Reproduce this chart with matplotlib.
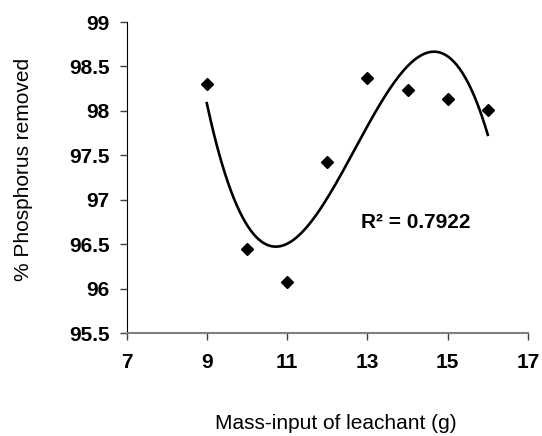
import matplotlib
matplotlib.use("Agg")
import matplotlib.pyplot as plt
import numpy as np

plt.rcParams["font.family"] = ["Liberation Sans", "DejaVu Sans"]

mass = [9, 10, 11, 12, 13, 14, 15, 16]
removed = [98.30, 96.45, 96.08, 97.43, 98.37, 98.24, 98.13, 98.01]
x_ticks = [7, 9, 11, 13, 15, 17]
y_ticks = [95.5, 96, 96.5, 97, 97.5, 98, 98.5, 99]

# 3rd order polynomial trendline, as in the spreadsheet original
coef = np.polyfit(mass, removed, 3)
xs = np.linspace(min(mass), max(mass), 200)

fig = plt.figure(figsize=(5.42, 4.36), dpi=100)
ax = fig.add_axes([0.2334, 0.2355, 0.7407, 0.714])

ax.plot(xs, np.polyval(coef, xs), color="black", linewidth=1.9)
ax.plot(mass, removed, linestyle="none", marker="D", markersize=6.5, color="black")

ax.set_xlim(7, 17)
ax.set_ylim(95.5, 99)
ax.set_xticks(x_ticks)
ax.set_yticks(y_ticks)
ax.set_xticklabels([str(t) for t in x_ticks], fontsize=15, fontweight="bold")
ax.set_yticklabels([f"{t:g}" for t in y_ticks], fontsize=15, fontweight="bold")
ax.tick_params(direction="out", length=5.2, width=1, color="#404040")
ax.tick_params(axis="x", pad=9)
ax.tick_params(axis="y", pad=7)
ax.spines[["top", "right"]].set_visible(False)
ax.spines["left"].set_color("black")
ax.spines["bottom"].set_color("#808080")
ax.spines["bottom"].set_linewidth(1.5)

fig.text(336 / 542, 1 - 429 / 436, "Mass-input of leachant (g)", fontsize=15,
         ha="center", va="baseline")
fig.text(24 / 542, 1 - 169.5 / 436, "% Phosphorus removed", fontsize=15,
         ha="center", va="center", rotation=90)
ax.text(12.85, 96.75, "R² = 0.7922", fontsize=15, fontweight="bold", va="center")

fig.savefig("out.png", dpi=100)
